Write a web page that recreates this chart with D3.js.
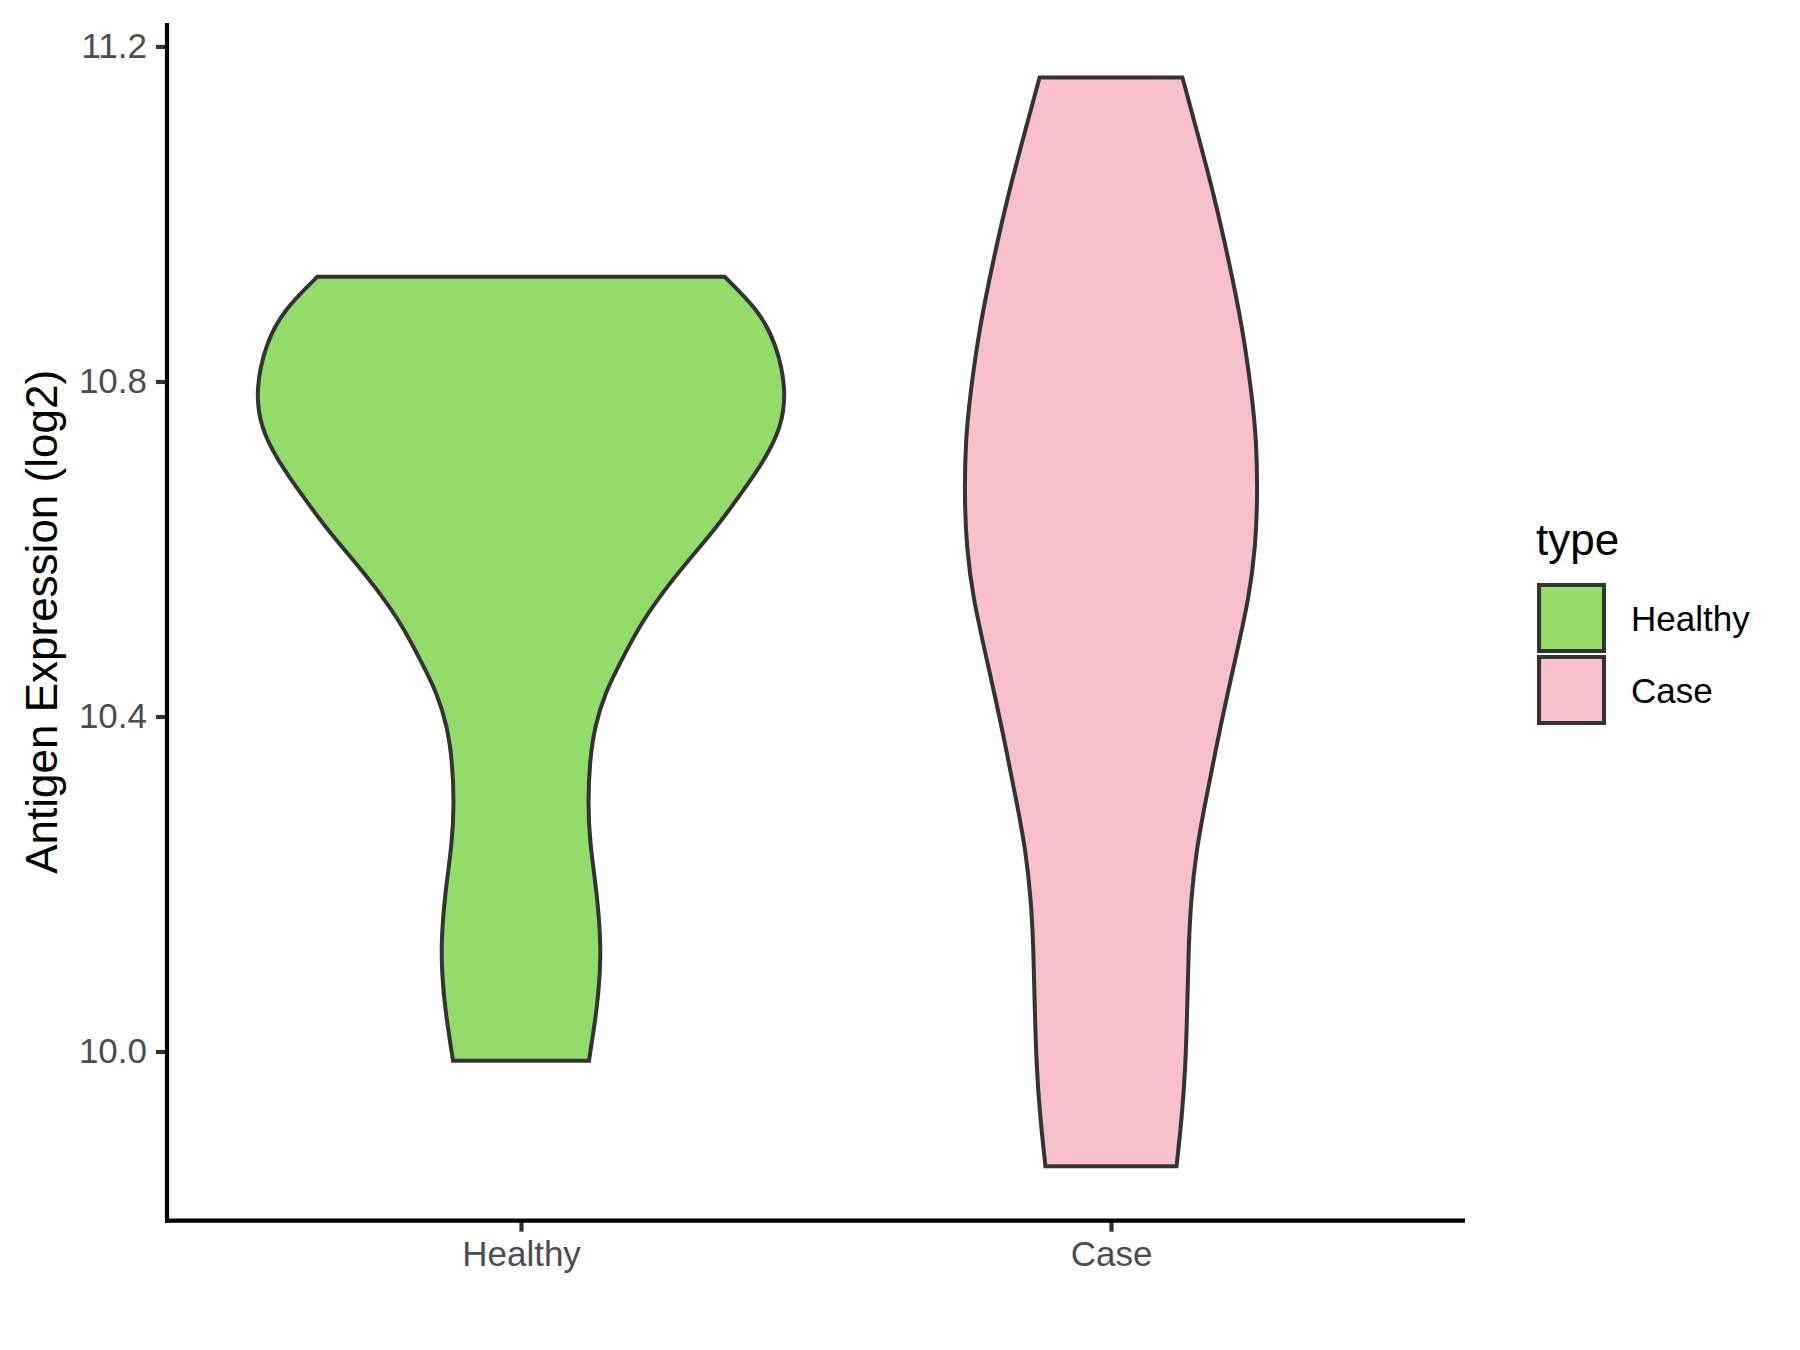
<!DOCTYPE html>
<html>
<head>
<meta charset="utf-8">
<script src="https://cdn.jsdelivr.net/npm/d3@7"></script>
<style>
  html, body { margin: 0; padding: 0; background: #ffffff; }
  svg text { font-family: "Liberation Sans", Arial, sans-serif; }
</style>
</head>
<body>
<svg id="chart" width="1800" height="1350"></svg>
<script>
// ---------------- data ----------------
const categories = ["Healthy", "Case"];
const fillColors = ["#94DC6A", "#F7C0CB"];
const yTicks = [10.0, 10.4, 10.8, 11.2];
const yTitle = "Antigen Expression (log2)";
const legendTitle = "type";

// violin outlines: expression value and relative violin width (1 = widest)
const healthyValues = [10.925, 10.885, 10.845, 10.790, 10.745, 10.706, 10.667, 10.626, 10.587, 10.547, 10.507, 10.468, 10.428, 10.388, 10.348, 10.297, 10.249, 10.190, 10.130, 10.090, 10.050, 9.989];
const healthyWidths = [0.767, 0.895, 0.962, 1.000, 0.981, 0.917, 0.831, 0.737, 0.632, 0.530, 0.444, 0.380, 0.316, 0.278, 0.259, 0.252, 0.259, 0.286, 0.301, 0.297, 0.286, 0.256];
const caseValues = [11.163, 11.103, 11.024, 10.944, 10.865, 10.786, 10.730, 10.662, 10.602, 10.543, 10.464, 10.384, 10.289, 10.241, 10.181, 10.122, 10.062, 9.982, 9.922, 9.863];
const caseWidths = [0.269, 0.320, 0.387, 0.444, 0.495, 0.530, 0.548, 0.552, 0.544, 0.521, 0.465, 0.409, 0.350, 0.322, 0.301, 0.292, 0.288, 0.281, 0.267, 0.247];

const violins = [
  { cat: categories[0], values: healthyValues, widths: healthyWidths },
  { cat: categories[1], values: caseValues, widths: caseWidths }
];

// ---------------- layout ----------------
const panel = { left: 167, right: 1465, top: 23, bottom: 1220.7 };
const svg = d3.select("#chart");

const allVals = healthyValues.concat(caseValues);
const [vmin, vmax] = d3.extent(allVals);
const pad = (vmax - vmin) * 0.05;

const y = d3.scaleLinear().domain([vmin - pad, vmax + pad]).range([panel.bottom, panel.top]);
const x = d3.scalePoint().domain(categories).range([panel.left, panel.right]).padding(0.6);
const color = d3.scaleOrdinal().domain(categories).range(fillColors);
const maxHalf = x.step() * 0.45;

// ---------------- violins ----------------
violins.forEach(v => {
  const pts = v.values.map((val, i) => ({ v: val, w: v.widths[i] }));
  const cx = x(v.cat);
  const area = d3.area()
    .y(d => y(d.v))
    .x0(d => cx - d.w * maxHalf)
    .x1(d => cx + d.w * maxHalf)
    .curve(d3.curveBasis);
  svg.append("path")
    .attr("d", area(pts))
    .attr("fill", color(v.cat))
    .attr("stroke", "#333333")
    .attr("stroke-width", 4)
    .attr("stroke-linejoin", "miter");
});

// ---------------- axes ----------------
const yAxis = d3.axisLeft(y).tickValues(yTicks).tickFormat(d3.format(".1f")).tickSize(11).tickPadding(9);
const gy = svg.append("g").attr("transform", `translate(${panel.left},0)`).call(yAxis);
gy.select(".domain").remove();
gy.selectAll(".tick line").attr("stroke", "#333333").attr("stroke-width", 4.2);
gy.selectAll(".tick text").attr("fill", "#4D4D4D").style("font-size", "35px")
  .style("font-family", "'Liberation Sans', Arial, sans-serif");

const xAxis = d3.axisBottom(x).tickSize(11).tickPadding(9);
const gx = svg.append("g").attr("transform", `translate(0,${panel.bottom})`).call(xAxis);
gx.select(".domain").remove();
gx.selectAll(".tick line").attr("stroke", "#333333").attr("stroke-width", 4.2);
gx.selectAll(".tick text").attr("fill", "#4D4D4D").style("font-size", "35px")
  .style("font-family", "'Liberation Sans', Arial, sans-serif");

// axis lines
svg.append("line").attr("x1", panel.left).attr("x2", panel.left)
  .attr("y1", panel.top).attr("y2", panel.bottom + 2)
  .attr("stroke", "#000").attr("stroke-width", 4.2);
svg.append("line").attr("x1", panel.left - 2).attr("x2", panel.right)
  .attr("y1", panel.bottom).attr("y2", panel.bottom)
  .attr("stroke", "#000").attr("stroke-width", 4.2);

// y title
svg.append("text")
  .attr("transform", `translate(57,${(panel.top + panel.bottom) / 2}) rotate(-90)`)
  .attr("text-anchor", "middle")
  .attr("fill", "#000")
  .style("font-size", "44px")
  .text(yTitle);

// ---------------- legend ----------------
const leg = svg.append("g");
leg.append("text").attr("x", 1536).attr("y", 555).attr("fill", "#000")
  .style("font-size", "44px").text(legendTitle);
categories.forEach((c, i) => {
  const top = 585 + i * 72;
  leg.append("rect").attr("x", 1539).attr("y", top).attr("width", 65).attr("height", 66)
    .attr("fill", color(c)).attr("stroke", "#333333").attr("stroke-width", 4);
  leg.append("text").attr("x", 1631).attr("y", top + 33).attr("dy", "0.36em")
    .attr("fill", "#000").style("font-size", "35px").text(c);
});
</script>
</body>
</html>
